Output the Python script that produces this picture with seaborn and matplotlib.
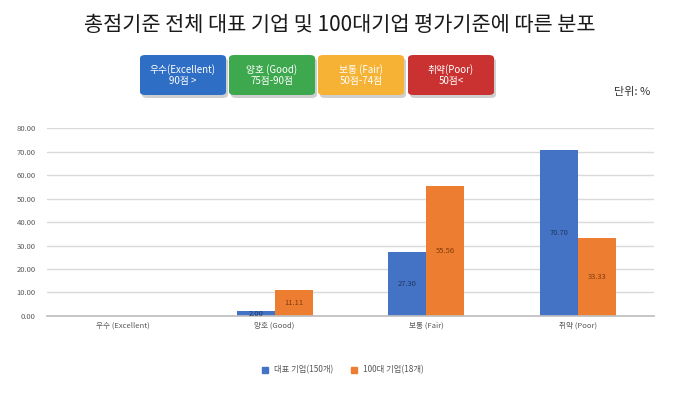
import matplotlib
matplotlib.use("Agg")
import matplotlib.pyplot as plt
from matplotlib.patches import FancyBboxPatch
from matplotlib.lines import Line2D
import seaborn as sns
import pandas as pd

categories = ["우수 (Excellent)", "양호 (Good)", "보통 (Fair)", "취약 (Poor)"]
series_names = ["대표 기업(150개)", "100대 기업(18개)"]
rep_values = [0.0, 2.00, 27.30, 70.70]
top100_values = [0.0, 11.11, 55.56, 33.33]
yticks = [0, 10, 20, 30, 40, 50, 60, 70, 80]

box_lines = ["우수(Excellent)\n90점 >", "양호 (Good)\n75점-90점", "보통 (Fair)\n50점-74점", "취약(Poor)\n50점<"]
box_colors = ["#2F6EC5", "#3DA84D", "#F5B234", "#C93230"]

sns.set_theme(style="white")
plt.rcParams['font.family'] = ['Noto Sans CJK KR', 'DejaVu Sans']

df = pd.DataFrame({
    "cat": categories * 2,
    "series": [series_names[0]] * 4 + [series_names[1]] * 4,
    "value": rep_values + top100_values,
})

fig = plt.figure(figsize=(6.8, 4.03), dpi=100)
ax = fig.add_axes([0.069, 0.216, 0.893, 0.466])

sns.barplot(data=df, x="cat", y="value", hue="series", order=categories,
            hue_order=series_names, palette=["#4472C4", "#ED7D31"],
            width=0.5, ax=ax, legend=False, saturation=1, errorbar=None,
            linewidth=0)

label_colors = ["#1F3864", "#843C0C"]
for cont, lc in zip(ax.containers, label_colors):
    labels = [f"{v:.2f}" if v > 0 else "" for v in cont.datavalues]
    ax.bar_label(cont, labels=labels, label_type="center", fontsize=5.5, color=lc)

ax.set_ylim(0, 80)
ax.set_yticks(yticks)
ax.set_yticklabels([f"{t:.2f}" for t in yticks], fontsize=5.5, color="#595959")
ax.tick_params(axis="x", labelsize=5.5, colors="#595959", length=0, pad=4)
ax.tick_params(axis="y", length=0, pad=8)
ax.set_xlabel("")
ax.set_ylabel("")
ax.yaxis.grid(True, color="#D9D9D9", linewidth=1)
ax.set_axisbelow(True)
for s in ["top", "right", "left"]:
    ax.spines[s].set_visible(False)
ax.spines["bottom"].set_color("#BFBFBF")
ax.set_xlim(-0.5, 3.5)

fig.text(0.5, 0.938, "총점기준 전체 대표 기업 및 100대기업 평가기준에 따른 분포",
         ha="center", va="center", fontsize=15, fontweight="medium", color="#1a1a1a")

W, H = 680, 403
box_x = [140, 229, 318, 408]
bw, bh = 86, 40
by = 55
for x0, txt, col in zip(box_x, box_lines, box_colors):
    sh = FancyBboxPatch(((x0 + 2) / W, 1 - (by + bh + 3) / H), bw / W, bh / H,
                        boxstyle="round,pad=0,rounding_size=0.008",
                        transform=fig.transFigure, facecolor="#00000030", edgecolor="none")
    fig.patches.append(sh)
    p = FancyBboxPatch((x0 / W, 1 - (by + bh) / H), bw / W, bh / H,
                       boxstyle="round,pad=0,rounding_size=0.008",
                       transform=fig.transFigure, facecolor=col, edgecolor="none")
    fig.patches.append(p)
    fig.text((x0 + bw / 2) / W, 1 - (by + bh / 2) / H, txt, ha="center", va="center",
             fontsize=7, color="white", linespacing=1.15)

fig.text(650 / W, 1 - 92 / H, "단위: %", ha="right", va="center", fontsize=8, color="#333333")

handles = [Line2D([], [], marker="s", linestyle="none", markersize=5, color=c)
           for c in ["#4472C4", "#ED7D31"]]
fig.legend(handles, series_names, loc="center", bbox_to_anchor=(0.5, 1 - 370 / H),
           ncol=2, frameon=False, fontsize=6, handletextpad=0.1, columnspacing=1.5,
           labelcolor="#595959")

fig.savefig("out.png", dpi=100, facecolor="white")
